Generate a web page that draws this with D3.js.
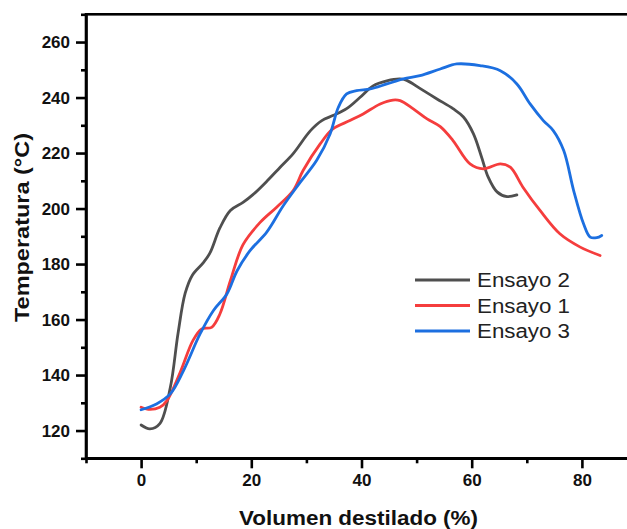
<!DOCTYPE html>
<html>
<head>
<meta charset="utf-8">
<script src="https://cdn.jsdelivr.net/npm/d3@7"></script>
<style>
  body { margin: 0; background: #fff; }
  svg { display: block; }
  .axis path, .axis line { stroke: #000; stroke-width: 2.6; }
  .axis text { font-family: "Liberation Sans", Arial, sans-serif; font-weight: bold; font-size: 17px; fill: #111; }
  .title { font-family: "Liberation Sans", Arial, sans-serif; font-weight: bold; font-size: 20px; fill: #111; }
  .legend text { font-family: "Liberation Sans", Arial, sans-serif; font-size: 20px; fill: #222; }
</style>
</head>
<body>
<div id="chart"></div>
<script>
// Ensayo 2 (grey)
const ensayo2 = [[0,122],[1.6,120.6],[3.4,122.5],[5.3,135.5],[6.7,155],[8.0,169.5],[9.3,176],[11.3,180.5],[12.5,184],[14.3,193],[16.2,199.3],[18.5,202.2],[20.3,205],[22.9,210],[25.2,214.8],[27.6,219.8],[30.7,228],[32.8,231.7],[34.8,233.5],[37.3,236],[39.7,240],[42.1,244.2],[44.6,246],[47,246.7],[48.2,246.2],[50.6,243.3],[53.7,239.5],[56.6,236],[58.5,233],[60.3,227],[61.8,218.5],[63,211.3],[64.6,206],[66.4,204.3],[68.2,204.9]];
// Ensayo 1 (red)
const ensayo1 = [[0,128.4],[1.6,127.6],[3.4,128.4],[4.7,130.8],[7.1,141],[9.4,152.4],[11,156.6],[12.8,157.2],[14.3,162],[16.2,174],[18.5,187],[21.6,195],[24.6,200.5],[27.6,206.5],[29.4,213.7],[32.5,223.3],[34.8,228.7],[37.9,231.7],[40.3,234.1],[43.4,237.7],[45.7,239.1],[47,238.9],[49.4,235.9],[51.9,232.3],[54.3,229.5],[56.6,224.5],[59.7,216.1],[62.1,214.3],[65.2,216.1],[67,214.9],[69.3,207.7],[72.4,199.3],[76,190.9],[79.7,186.1],[83.3,183.1]];
// Ensayo 3 (blue)
const ensayo3 = [[0,127.5],[2.8,129.6],[5.3,133.2],[7.7,141.6],[10.7,154.8],[13.1,163.2],[15.6,169.3],[17.4,177.5],[19.8,184.9],[22.8,191.5],[25.8,201],[28.9,209.5],[31.9,217.5],[34.3,226.9],[35.8,236.5],[37.3,241.3],[39.1,242.5],[41.6,243.1],[44.6,244.9],[47.6,246.7],[50.6,247.9],[54.3,250.3],[57.3,252.1],[61.5,251.5],[65.2,249.7],[68.2,244.9],[70.6,237.7],[73,231.7],[74.8,228.1],[76.7,220.9],[78.5,206.5],[80.3,194.5],[81.5,189.7],[82.7,189.5],[83.6,190.3]];

const xMajor = [0, 20, 40, 60, 80];
const xMinor = [-10, 10, 30, 50, 70, 90];
const yMajor = [120, 140, 160, 180, 200, 220, 240, 260];
const yMinor = [110, 130, 150, 170, 190, 210, 230, 250, 270];

const series = [
  { name: 'Ensayo 2', data: ensayo2, color: '#4f4f4f' },
  { name: 'Ensayo 1', data: ensayo1, color: '#f53d3d' },
  { name: 'Ensayo 3', data: ensayo3, color: '#1c6fe0' }
];

const W = 627, H = 529;
const svg = d3.select('#chart').append('svg')
  .attr('width', W).attr('height', H);

const x = d3.scaleLinear().domain([-10, 90]).range([86, 637]);
const y = d3.scaleLinear().domain([110, 270]).range([458.3, 14.3]);

// minor ticks
svg.append('g').attr('class', 'axis')
  .attr('transform', `translate(0,${y(110)})`)
  .call(d3.axisBottom(x).tickValues(xMinor).tickSize(5).tickFormat(''))
  .select('.domain').remove();
svg.append('g').attr('class', 'axis')
  .attr('transform', `translate(${x(-10)},0)`)
  .call(d3.axisLeft(y).tickValues(yMinor).tickSize(5).tickFormat(''))
  .select('.domain').remove();

// major ticks
svg.append('g').attr('class', 'axis')
  .attr('transform', `translate(0,${y(110)})`)
  .call(d3.axisBottom(x).tickValues(xMajor).tickSize(10).tickPadding(6).tickSizeOuter(0));
svg.append('g').attr('class', 'axis')
  .attr('transform', `translate(${x(-10)},0)`)
  .call(d3.axisLeft(y).tickValues(yMajor).tickSize(10).tickPadding(6).tickSizeOuter(0));

// frame
svg.append('rect')
  .attr('x', x(-10)).attr('y', y(270))
  .attr('width', x(90) - x(-10)).attr('height', y(110) - y(270))
  .attr('fill', 'none').attr('stroke', '#000').attr('stroke-width', 2.6);

const line = d3.line()
  .x(d => x(d[0]))
  .y(d => y(d[1]))
  .curve(d3.curveCatmullRom.alpha(0.5));

svg.selectAll('.series')
  .data(series)
  .enter()
  .append('path')
  .attr('class', 'series')
  .attr('d', d => line(d.data))
  .attr('fill', 'none')
  .attr('stroke', d => d.color)
  .attr('stroke-width', 2.8)
  .attr('stroke-linecap', 'round')
  .attr('stroke-linejoin', 'round');

// axis titles
svg.append('text')
  .attr('class', 'title')
  .attr('x', 358.5).attr('y', 525)
  .attr('text-anchor', 'middle')
  .attr('textLength', 239).attr('lengthAdjust', 'spacingAndGlyphs')
  .text('Volumen destilado (%)');

svg.append('text')
  .attr('class', 'title')
  .attr('transform', 'translate(29,227.5) rotate(-90)')
  .attr('text-anchor', 'middle')
  .attr('textLength', 189).attr('lengthAdjust', 'spacingAndGlyphs')
  .text('Temperatura (°C)');

// legend
const legend = svg.append('g').attr('class', 'legend');
const rows = legend.selectAll('g')
  .data(series)
  .enter()
  .append('g')
  .attr('transform', (d, i) => `translate(0,${280 + i * 25.5})`);
rows.append('line')
  .attr('x1', 415).attr('x2', 470)
  .attr('stroke', d => d.color).attr('stroke-width', 2.8);
rows.append('text')
  .attr('x', 477).attr('y', 7)
  .attr('textLength', 93).attr('lengthAdjust', 'spacingAndGlyphs')
  .text(d => d.name);
</script>
</body>
</html>
